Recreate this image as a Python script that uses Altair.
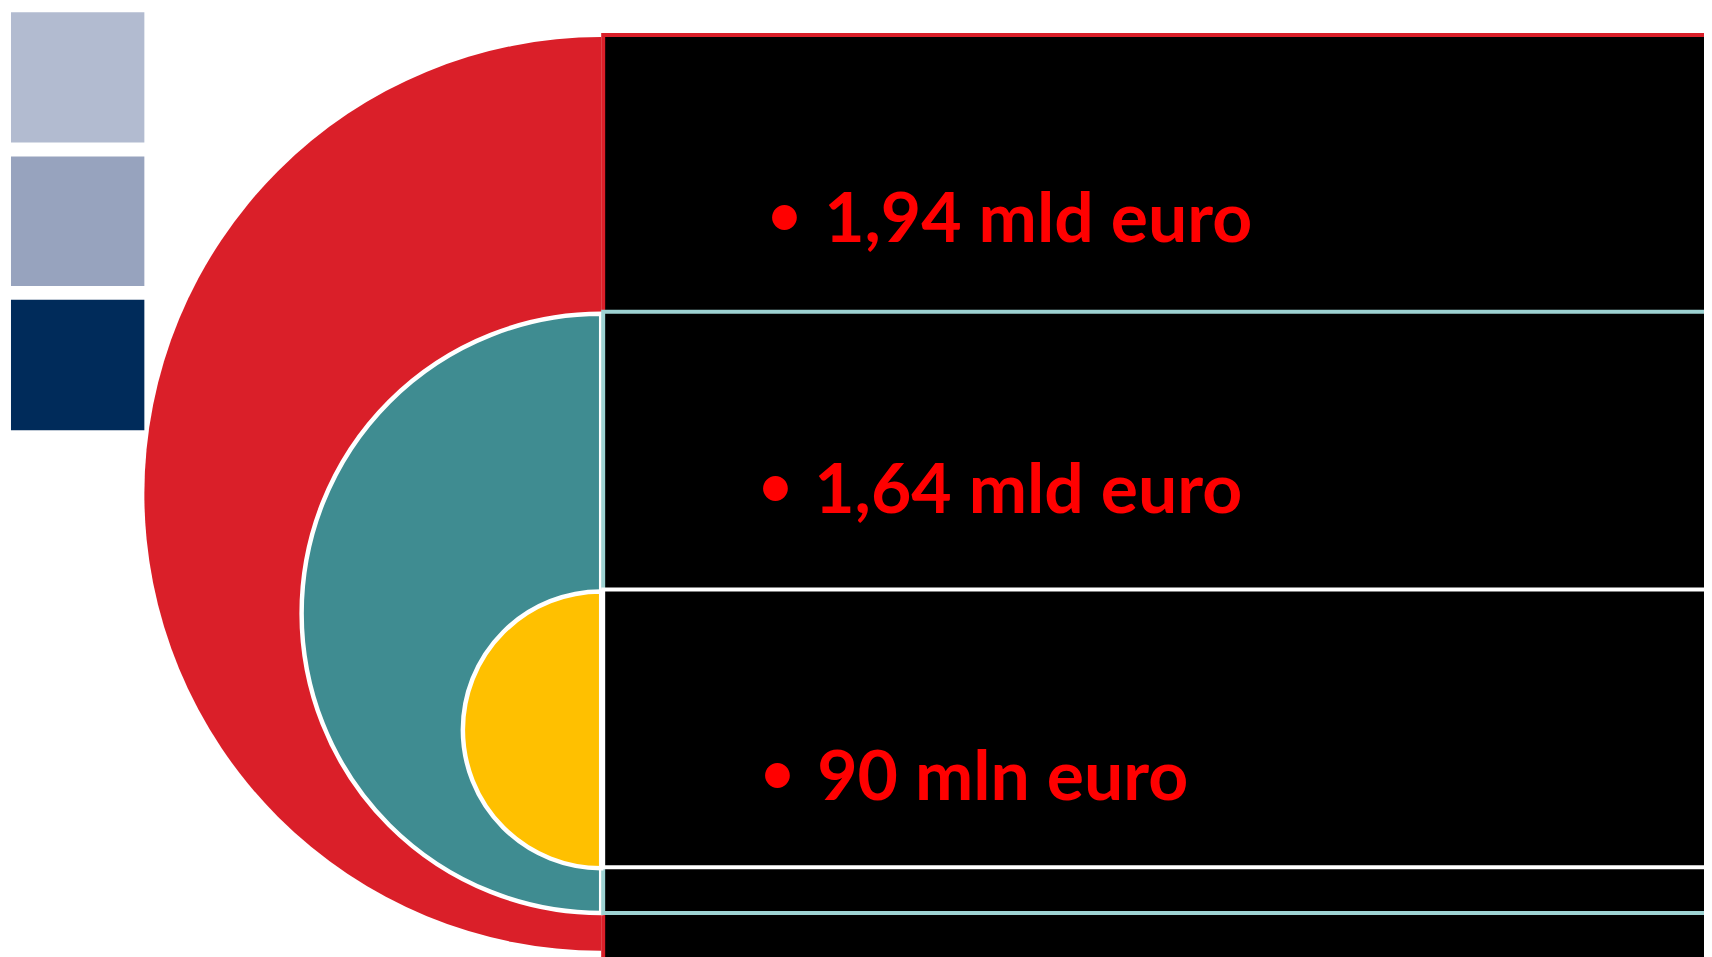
import math
import altair as alt
import pandas as pd

# ---- content ----
amounts = ["1,94 mld euro", "1,64 mld euro", "90 mln euro"]
bullets = ["\u2022", "\u2022", "\u2022"]
ring_names = ["outer", "middle", "inner"]
ring_fill = ["#DA1F29", "#3F8C91", "#FFC000"]
ring_stroke = ["#DA1F29", "#FFFFFF", "#FFFFFF"]
box_stroke = ["#DA1F29", "#9DD2D2", "#FFFFFF"]
square_fill = ["#B2BBD0", "#97A3BE", "#002B5A"]

# ---- layout (page pixels) ----
PAGE_W, PAGE_H, M = 1712, 957, 8
cx = 604
ring_cy = [494, 614, 731]
ring_r = [459, 301, 139]
box_top = [33, 311, 590]
box_bottom = [990, 915, 869]
box_right = 1740
bullet_x = [788, 779, 781]
bullet_base = [234, 506, 794]
text_x = [828, 818, 821]
text_base = [241, 513, 801]
sq_left, sq_right = 11, 145
sq_top = [10, 155, 299]
sq_bottom = [141, 285, 430]

xs = alt.Scale(domain=[M, PAGE_W], nice=False, zero=False)
ys = alt.Scale(domain=[M, PAGE_H], nice=False, zero=False, reverse=True)

layers = []
for i, name in enumerate(ring_names):
    ring = pd.DataFrame({"ring": [name], "cx": [cx], "cy": [ring_cy[i]], "r": [ring_r[i]]})
    layers.append(
        alt.Chart(ring)
        .mark_arc(theta=math.pi, theta2=2 * math.pi, fill=ring_fill[i],
                  stroke=ring_stroke[i], strokeWidth=0 if i == 0 else 4.5)
        .encode(
            x=alt.X("cx:Q", scale=xs, axis=None),
            y=alt.Y("cy:Q", scale=ys, axis=None),
            radius=alt.Radius("r:Q", scale=None),
        )
    )
    box = pd.DataFrame({"ring": [name], "x0": [cx + 2], "x1": [box_right],
                        "y0": [box_top[i]], "y1": [box_bottom[i]]})
    layers.append(
        alt.Chart(box)
        .mark_rect(fill="#000000", stroke=box_stroke[i], strokeWidth=4)
        .encode(
            x=alt.X("x0:Q", scale=xs, axis=None),
            x2="x1:Q",
            y=alt.Y("y0:Q", scale=ys, axis=None),
            y2="y1:Q",
        )
    )

labels = pd.DataFrame({
    "amount": amounts,
    "bullet": bullets,
    "bx": bullet_x,
    "by": bullet_base,
    "tx": text_x,
    "ty": text_base,
})
layers.append(
    alt.Chart(labels).mark_text(align="center", baseline="alphabetic", font="Lato",
                                fontWeight="bold", fontSize=57, color="#FF0000").encode(
        x=alt.X("bx:Q", scale=xs, axis=None),
        y=alt.Y("by:Q", scale=ys, axis=None),
        text="bullet:N",
    )
)
layers.append(
    alt.Chart(labels).mark_text(align="left", baseline="alphabetic", font="Lato",
                                fontWeight="bold", fontSize=70, color="#FF0000").encode(
        x=alt.X("tx:Q", scale=xs, axis=None),
        y=alt.Y("ty:Q", scale=ys, axis=None),
        text="amount:N",
    )
)

squares = pd.DataFrame({
    "fill": square_fill,
    "x0": [sq_left] * 3,
    "x1": [sq_right] * 3,
    "y0": sq_top,
    "y1": sq_bottom,
})
layers.append(
    alt.Chart(squares).mark_rect().encode(
        x=alt.X("x0:Q", scale=xs, axis=None),
        x2="x1:Q",
        y=alt.Y("y0:Q", scale=ys, axis=None),
        y2="y1:Q",
        fill=alt.Fill("fill:N", scale=None),
    )
)

chart = (
    alt.layer(*layers)
    .properties(width=PAGE_W - M, height=PAGE_H - M, padding=0,
                autosize=alt.AutoSizeParams(type="none"), background="#FFFFFF")
    .configure_view(strokeWidth=0)
)

chart.save("out.html", embed_options={"renderer": "svg", "actions": False})
